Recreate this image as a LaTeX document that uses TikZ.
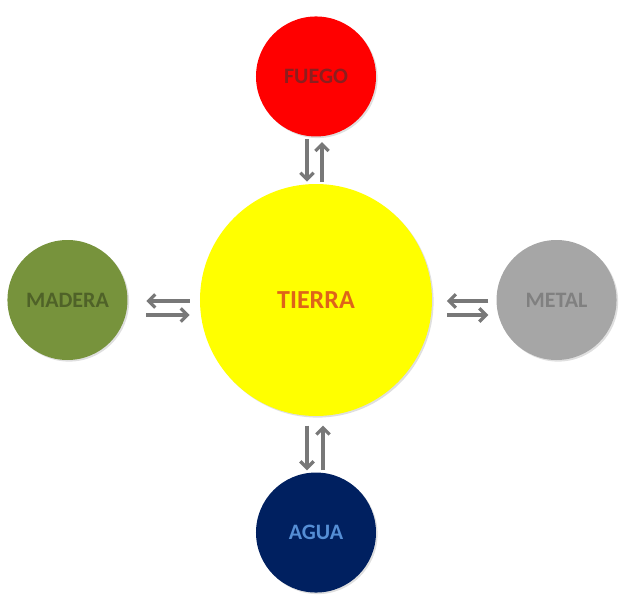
\documentclass[tikz,border=0pt]{standalone}
\usepackage{fontspec}
\setmainfont{Carlito}
\usepackage{xcolor}
\definecolor{fuegored}{RGB}{255,0,0}
\definecolor{fuegotxt}{RGB}{140,30,30}
\definecolor{tierrayel}{RGB}{255,255,0}
\definecolor{tierratxt}{RGB}{222,100,25}
\definecolor{maderagrn}{RGB}{119,147,60}
\definecolor{maderatxt}{RGB}{79,98,40}
\definecolor{metalgry}{RGB}{166,166,166}
\definecolor{metaltxt}{RGB}{128,128,128}
\definecolor{aguanavy}{RGB}{0,32,96}
\definecolor{aguatxt}{RGB}{85,142,213}
\definecolor{flowgry}{RGB}{120,120,120}
\usetikzlibrary{shapes.geometric,arrows.meta,positioning,shadows}
\tikzset{
  elem/.style={circle, minimum size=90pt, inner sep=0pt, font=\fontsize{16.5}{19}\selectfont\bfseries,
    drop shadow={opacity=0.25, shadow xshift=1.2pt, shadow yshift=-1.2pt}},
  core/.style={elem, minimum size=174pt, font=\fontsize{19.5}{23}\selectfont\bfseries},
  flow/.style={-{Straight Barb[length=5pt,width=10pt]}, line width=2.4pt, draw=flowgry}
}
\begin{document}
\begin{tikzpicture}[node distance=40pt]
  \useasboundingbox (-237pt,225pt) rectangle (227.25pt,-222.75pt);
  \node[core, fill=tierrayel, text=tierratxt] (tierra) {TIERRA};
  \node[elem, fill=fuegored, text=fuegotxt, above=35.25pt of tierra] (fuego) {FUEGO};
  \node[elem, fill=aguanavy, text=aguatxt, below=42pt of tierra] (agua) {AGUA};
  \node[elem, fill=maderagrn, text=maderatxt, left=54pt of tierra] (madera) {MADERA};
  \node[elem, fill=metalgry, text=metaltxt, right=48pt of tierra] (metal) {METAL};
  % fuego <-> tierra
  \draw[flow, shorten <=2pt, shorten >=1.5pt] ([xshift=-6.75pt]fuego.south) -- ([xshift=-6.75pt]tierra.north);
  \draw[flow, shorten <=1.5pt, shorten >=4pt] ([xshift=4.5pt]tierra.north) -- ([xshift=4.5pt]fuego.south);
  % agua <-> tierra
  \draw[flow, shorten <=7pt, shorten >=1.5pt] ([xshift=-6.75pt]tierra.south) -- ([xshift=-6.75pt]agua.north);
  \draw[flow, shorten <=1.5pt, shorten >=7pt] ([xshift=5.25pt]agua.north) -- ([xshift=5.25pt]tierra.south);
  % madera <-> tierra
  \draw[flow, shorten <=7.5pt, shorten >=14pt] ([yshift=-0.75pt]tierra.west) -- ([yshift=-0.75pt]madera.east);
  \draw[flow, shorten <=14pt, shorten >=7.5pt] ([yshift=-11.25pt]madera.east) -- ([yshift=-11.25pt]tierra.west);
  % metal <-> tierra
  \draw[flow, shorten <=6pt, shorten >=11pt] ([yshift=-0.75pt]metal.west) -- ([yshift=-0.75pt]tierra.east);
  \draw[flow, shorten <=11pt, shorten >=6pt] ([yshift=-11.25pt]tierra.east) -- ([yshift=-11.25pt]metal.west);
\end{tikzpicture}
\end{document}
